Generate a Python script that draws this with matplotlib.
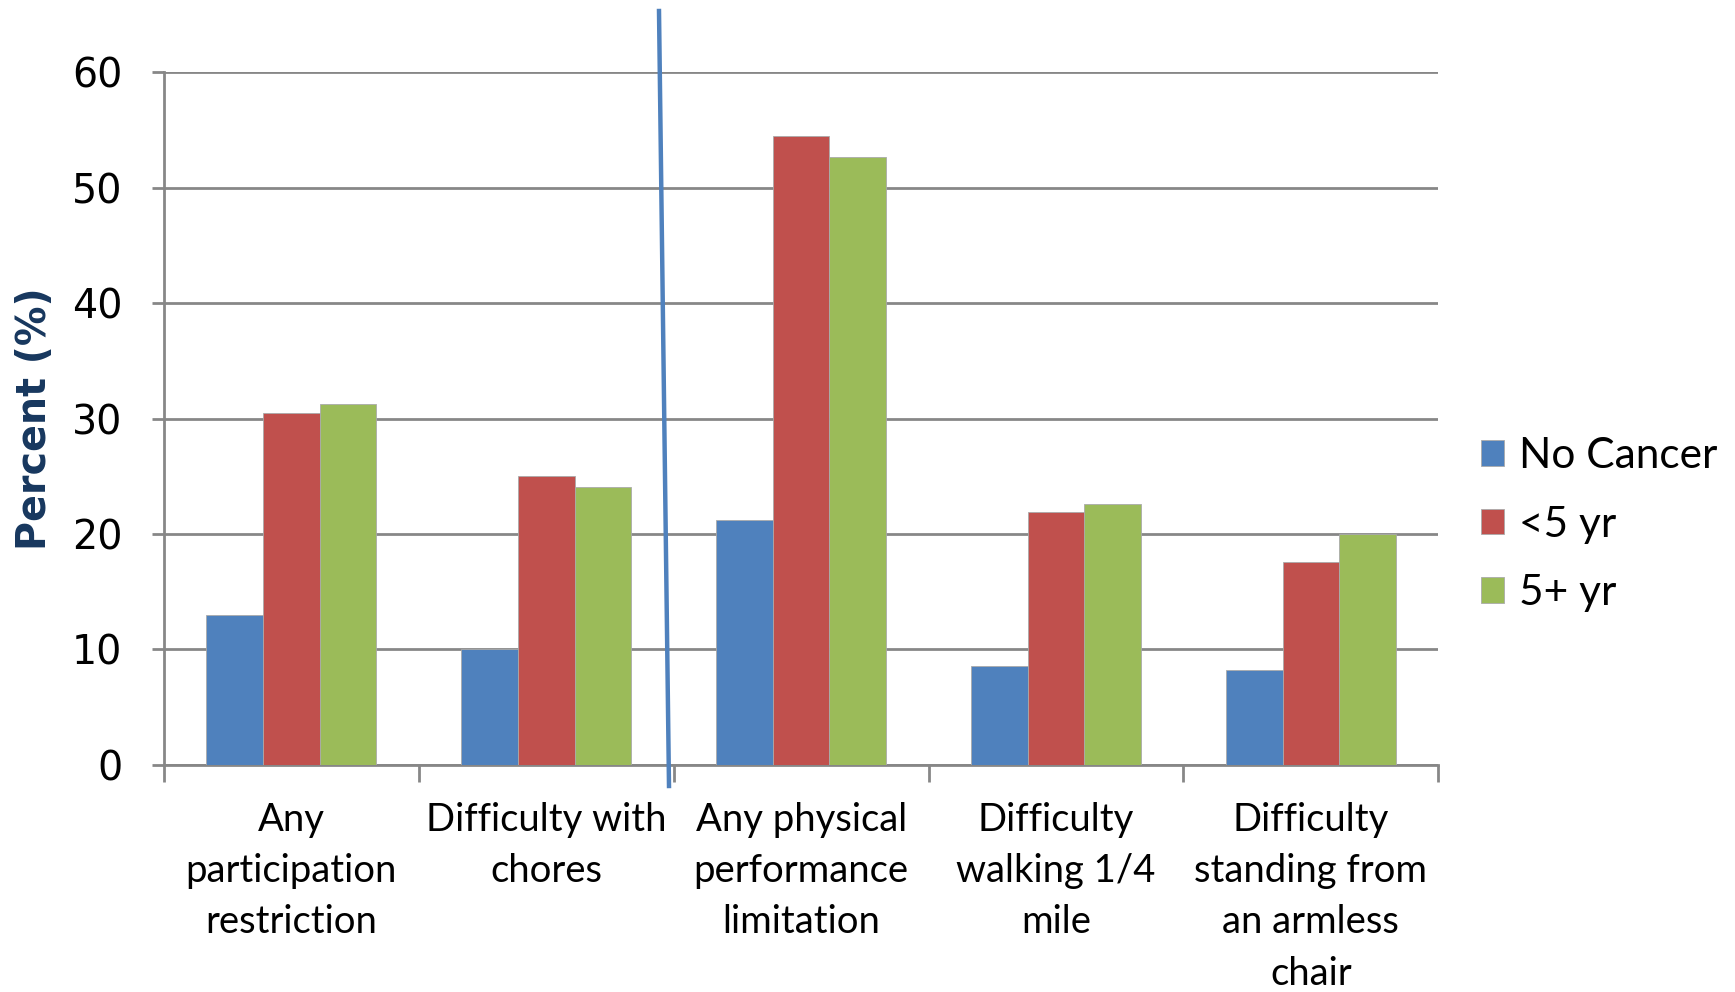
import numpy as np
import matplotlib
matplotlib.use("Agg")
import matplotlib.pyplot as plt
from matplotlib.lines import Line2D

plt.rcParams['font.family'] = ['Lato', 'DejaVu Sans']

categories = ["Any\nparticipation\nrestriction",
              "Difficulty with\nchores",
              "Any physical\nperformance\nlimitation",
              "Difficulty\nwalking 1/4\nmile",
              "Difficulty\nstanding from\nan armless\nchair"]
series_names = ["No Cancer", "<5 yr", "5+ yr"]
no_cancer = [13.0, 10.0, 21.2, 8.6, 8.2]
under_5 = [30.5, 25.0, 54.5, 21.9, 17.6]
over_5 = [31.3, 24.1, 52.7, 22.6, 20.0]
colors = ["#4F81BD", "#C0504D", "#9BBB59"]
yticks = [0, 10, 20, 30, 40, 50, 60]

fig = plt.figure(figsize=(17.35, 9.92), dpi=100)
ax = fig.add_axes([0.0945, 0.229, 0.7345, 0.698])

x = np.arange(len(categories))
w = 1 / 4.5
for i, (vals, name) in enumerate(zip([no_cancer, under_5, over_5], series_names)):
    ax.bar(x + (i - 1) * w, vals, width=w, color=colors[i], label=name,
           edgecolor="#AAAAAA", linewidth=0.6, zorder=3)

ax.set_xlim(-0.5, len(categories) - 0.5)
ax.set_ylim(0, 60)
ax.set_yticks(yticks)
ax.set_yticklabels([str(t) for t in yticks], family="DejaVu Sans")
ax.yaxis.grid(True, color="#878787", linewidth=2, zorder=0)
ax.set_axisbelow(True)

# category boundaries as tick marks
ax.set_xticks(np.arange(-0.5, len(categories)), minor=False)
ax.set_xticklabels([])
ax.set_xticks(x, minor=True)
ax.set_xticklabels(categories, minor=True, fontsize=27.5, linespacing=1.52, va="top")
ax.tick_params(axis="x", which="major", length=12, width=2, color="#878787")
ax.tick_params(axis="x", which="minor", length=0, pad=27)
ax.tick_params(axis="y", length=9, width=2, color="#878787", labelsize=28.5, pad=21)

for s in ["top", "right"]:
    ax.spines[s].set_visible(False)
for s in ["left", "bottom"]:
    ax.spines[s].set_color("#878787")
    ax.spines[s].set_linewidth(2)

ax.set_ylabel("Percent (%)", fontsize=28.5, fontweight="bold", color="#17375E",
              family="DejaVu Sans")
ax.yaxis.set_label_coords(-0.0855, 0.5)

ax.legend(loc="center left", bbox_to_anchor=(1.02, 0.347), frameon=False,
          fontsize=30.5, handlelength=0.56, handleheight=0.56, handletextpad=0.35,
          labelspacing=0.72, borderaxespad=0)

# slanted divider line
fig.add_artist(Line2D([659 / 1735, 669 / 1735], [1 - 11 / 992, 1 - 786 / 992],
                      color="#4F81BD", linewidth=3.2))

fig.savefig("out.png", dpi=100, facecolor="white")
